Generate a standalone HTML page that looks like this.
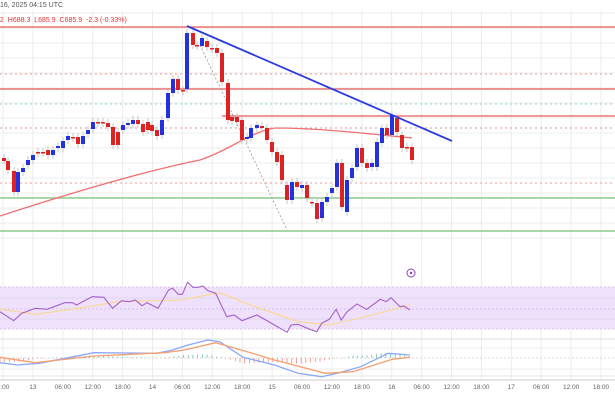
<!DOCTYPE html>
<html><head><meta charset="utf-8"><style>
html,body{margin:0;padding:0;background:#fff;width:615px;height:410px;overflow:hidden}
svg{display:block;font-family:"Liberation Sans",sans-serif}
</style></head><body>
<svg id="s" width="615" height="410" viewBox="0 0 615 410" xmlns="http://www.w3.org/2000/svg">
<rect width="615" height="410" fill="#fff"/>
<g id="grid" stroke="#ececec" stroke-width="1"></g>
<text x="0" y="7" font-size="7" fill="#555">16, 2025 04:15 UTC</text>
<text x="0" y="22" font-size="7" fill="#d33">2 &#160;H688.3 &#160;L685.9 &#160;C685.9 &#160;-2.3 (-0.33%)</text>
<rect x="0" y="287" width="615" height="42" fill="#efe1fb"/>
<g stroke="#cbb6e6" stroke-width="0.7" stroke-dasharray="2,2">
<line x1="0" y1="287" x2="615" y2="287"/><line x1="0" y1="329" x2="615" y2="329"/><line x1="0" y1="309" x2="615" y2="309"/>
</g>
<line x1="0" y1="298" x2="615" y2="298" stroke="#ddd0ee" stroke-width="0.7"/>
<line x1="0" y1="319" x2="615" y2="319" stroke="#ddd0ee" stroke-width="0.7"/>
<line x1="0" y1="339" x2="615" y2="339" stroke="#ddd" stroke-width="1"/>
<line x1="0" y1="358" x2="615" y2="358" stroke="#ccc" stroke-width="0.7" stroke-dasharray="2,2"/>
<line x1="0" y1="376" x2="615" y2="376" stroke="#e4e4e4" stroke-width="1"/>
<line x1="0" y1="380" x2="615" y2="380" stroke="#ccc" stroke-width="1"/>
<g stroke-width="1">
<line x1="0" y1="27" x2="615" y2="27" stroke="#e85a5a" stroke-width="1.3"/>
<line x1="0" y1="89" x2="615" y2="89" stroke="#e85a5a" stroke-width="1.3"/>
<line x1="222" y1="116" x2="615" y2="116" stroke="#e85a5a" stroke-width="1.3"/>
<line x1="0" y1="74" x2="615" y2="74" stroke="#ee9a9a" stroke-dasharray="2,3"/>
<line x1="0" y1="128" x2="615" y2="128" stroke="#c99" stroke-dasharray="2,3"/>
<line x1="0" y1="183" x2="615" y2="183" stroke="#ee9a9a" stroke-dasharray="2,3"/>
<line x1="0" y1="104" x2="615" y2="104" stroke="#9cd8c4" stroke-dasharray="2,3"/>
<line x1="0" y1="198" x2="615" y2="198" stroke="#8ccc8c" stroke-width="1.4"/>
<line x1="0" y1="231" x2="615" y2="231" stroke="#8ccc8c" stroke-width="1.4"/>
<line x1="200" y1="45" x2="287" y2="230" stroke="#999" stroke-dasharray="2,2" stroke-width="0.8"/>
</g>
<path d="M0,216 C80,190 150,170 200,160 C230,150 250,132 275,128 C320,128 370,134 412,138" fill="none" stroke="#f07070" stroke-width="1.3"/>
<g id="c"></g>
<line x1="187" y1="26" x2="452" y2="141" stroke="#2a3be0" stroke-width="1.8"/>
<g id="ind" fill="none"></g>
<circle cx="411" cy="273" r="4" fill="none" stroke="#9040c0" stroke-width="1"/>
<circle cx="411" cy="273" r="1.2" fill="#9040c0"/>
<g id="lab" font-size="6.5" fill="#666" text-anchor="middle"></g>
</svg>
<script>
var NS="http://www.w3.org/2000/svg";
function el(p,t,a){var e=document.createElementNS(NS,t);for(var k in a)e.setAttribute(k,a[k]);p.appendChild(e);return e;}
var g=document.getElementById('grid');
for(var x=3;x<615;x+=29.9){el(g,'line',{x1:x,y1:10,x2:x,y2:380});}
for(var y=13;y<240;y+=15){el(g,'line',{x1:0,y1:y,x2:615,y2:y});}
[299,348,369].forEach(function(y){el(g,'line',{x1:0,y1:y,x2:615,y2:y});});
var C=[[4,158,161],[8,161,170],[14,171,192],[18,192,172],[23,172,168],[28,165,160],[33,160,155],[38,152,153],[43,152,153],[48,150,155],[53,155,150],[58,148,146],[63,148,141],[68,140,136],[73,137,138],[78,137,144],[83,144,136],[88,134,130],[93,129,122],[98,122,123],[103,122,123],[108,123,127],[113,127,145],[118,132,145],[123,130,125],[128,125,123],[133,124,120],[138,120,124],[143,124,132],[148,122,130],[152,125,131],[157,130,136],[162,135,120],[168,118,93],[173,93,79],[178,79,90],[183,90,91],[187,89,33],[193,33,45],[197,45,46],[202,46,38],[207,41,47],[212,48,49],[217,48,53],[222,53,82],[228,83,120],[232,117,121],[237,117,122],[242,120,140],[247,139,137],[251,138,128],[257,128,125],[262,126,128],[267,128,140],[272,142,152],[277,152,162],[282,155,180],[287,185,200],[292,200,182],[297,182,187],[302,188,185],[307,185,198],[312,202,203],[317,203,219],[322,218,202],[327,202,197],[332,193,188],[337,187,163],[342,163,207],[347,212,180],[352,178,168],[357,167,148],[362,148,163],[367,163,168],[372,167,163],[377,167,142],[382,143,128],[387,128,135],[392,135,115],[397,118,132],[402,135,148],[407,147,148],[412,147,160]];
var cg=document.getElementById('c');
C.forEach(function(c){var up=c[2]<c[1];var col=up?'#2233dd':'#dd2222';var t=Math.min(c[1],c[2]),b=Math.max(c[1],c[2]);
el(cg,'line',{x1:c[0],y1:t-4,x2:c[0],y2:b+4,stroke:'#bbb','stroke-width':0.8});
el(cg,'rect',{x:c[0]-2,y:t,width:4,height:Math.max(b-t,1.5),fill:col});});
var SY=3;
function pts(a,sx,sy,oy){return a.map(function(p){return (p[0]/sx).toFixed(1)+','+(p[1]/sy+oy).toFixed(1)}).join(' ');}
var ind=document.getElementById('ind');
var rsi=[[0,125],[35,152],[55,130],[90,115],[120,118],[165,98],[185,98],[195,105],[235,80],[265,82],[287,115],[310,92],[330,95],[345,90],[362,107],[375,98],[403,115],[430,60],[440,55],[455,73],[465,73],[478,37],[492,52],[505,52],[517,48],[530,62],[550,70],[578,140],[597,135],[617,152],[655,135],[700,165],[732,187],[742,165],[760,163],[790,178],[808,185],[820,160],[840,148],[857,118],[870,150],[885,125],[910,102],[935,118],[970,88],[985,95],[997,83],[1020,110],[1030,108],[1045,120]];
var yel=[[0,118],[90,133],[200,115],[300,95],[460,90],[560,68],[650,110],[760,155],[840,165],[950,135],[1045,105]];
var mb=[[0,278],[45,285],[100,280],[240,248],[400,250],[440,240],[480,225],[530,210],[560,215],[620,262],[700,285],[760,310],[820,320],[860,310],[920,290],[990,250],[1045,255]];
var mo=[[0,262],[90,278],[240,258],[420,248],[470,240],[550,218],[630,245],[700,270],[830,310],[900,305],[1000,268],[1045,262]];
function iv(a,x){for(var j=0;j<a.length-1;j++)if(x>=a[j][0]&&x<=a[j+1][0]){var t=(x-a[j][0])/(a[j+1][0]-a[j][0]);return a[j][1]+t*(a[j+1][1]-a[j][1]);}return a[a.length-1][1];}
for(var i=0;i<1045;i+=12){
var d=(iv(mo,i)-iv(mb,i))/SY*0.8;var x=i/2.55;
el(ind,'line',{x1:x,y1:358,x2:x,y2:358-d,stroke:d>0?'#6cc4a8':'#f08a80','stroke-width':0.8});}
el(ind,'polyline',{points:pts(yel,2.55,SY,270),stroke:'#f8d890','stroke-width':1.1});
el(ind,'polyline',{points:pts(rsi,2.55,SY,270),stroke:'#a560c8','stroke-width':1.1});
el(ind,'polyline',{points:pts(mb,2.55,SY,270),stroke:'#8aa8f8','stroke-width':1.3});
el(ind,'polyline',{points:pts(mo,2.55,SY,270),stroke:'#f5a070','stroke-width':1.3});
var L=['8:00','13','06:00','12:00','18:00','14','06:00','12:00','18:00','15','06:00','12:00','18:00','16','06:00','12:00','18:00','17','06:00','12:00','18:00'];
var lg=document.getElementById('lab');
L.forEach(function(t,k){var e=el(lg,'text',{x:3+k*29.9,y:389});e.textContent=t;});
</script>
</body></html>
